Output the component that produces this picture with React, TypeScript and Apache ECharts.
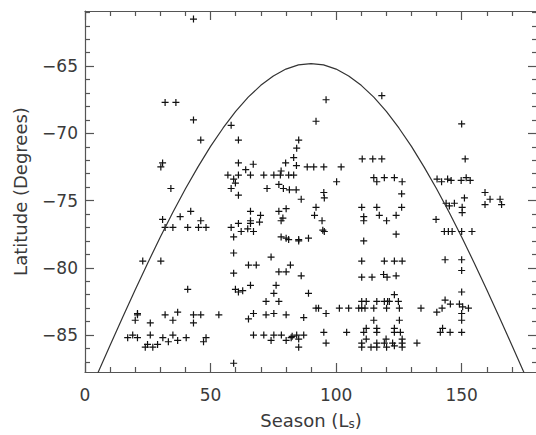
import React, { useEffect, useRef } from "react";
import * as echarts from "echarts";

// Observations: season (Ls, degrees) and latitude (degrees)
const lsValues = [
  43.2, 31.9, 36.2, 43.2, 46.1, 30.9, 30.2, 34.2,
  58.2, 61.1, 96.0, 92.0, 85.1, 84.3, 83.1, 79.9, 84.2, 88.5, 91.1, 95.1, 61.1, 67.0, 64.0, 78.1,
  56.9, 61.1, 65.9, 71.2, 75.2, 77.8, 81.1, 83.1, 59.2, 59.9, 58.2, 72.5, 77.2, 79.0, 81.4, 84.1,
  61.1, 86.1, 95.1, 95.3,
  65.9, 69.9, 61.1, 65.9, 65.9, 69.5, 58.2, 64.8, 62.2, 67.1, 59.2, 77.2, 80.1, 78.8, 78.1, 92.0,
  91.4, 94.4, 94.7, 95.3, 78.1, 80.1, 81.1, 85.1, 85.1, 89.0, 59.2, 74.1, 65.1, 68.2, 81.8, 77.2,
  80.1, 59.2, 86.1, 65.9, 59.9, 61.1, 62.8, 76.1, 75.2, 89.0, 72.1, 77.2, 92.0, 93.0, 96.0, 53.3,
  67.1, 65.1, 72.1, 75.2, 80.1, 87.1, 95.1, 96.0, 67.1, 71.2, 75.2, 78.2, 82.5, 84.3, 87.1, 74.1,
  80.1, 82.1, 85.1, 85.1, 59.2,
  30.9, 37.9, 42.1, 46.1, 31.9, 35.0, 40.9, 45.2, 48.2, 23.0, 30.2, 40.9, 20.9, 20.9, 20.0, 31.9,
  35.0, 36.9, 43.2, 46.1, 43.2, 26.0, 17.0, 19.0, 20.9, 26.0, 31.0, 33.2, 35.0, 36.9, 40.3, 47.2,
  48.2, 24.0, 24.9, 27.0, 28.9,
  118.2, 110.4, 114.6, 118.2, 102.0, 100.2, 115.0, 116.2, 119.2, 123.2, 126.3, 140.2, 142.0,
  150.0, 151.4, 144.4, 145.8, 149.8, 151.8, 153.4,
  159.3, 161.3, 165.3, 159.3, 165.9, 151.1, 150.2, 150.2, 143.8, 145.1, 147.1, 143.1, 144.7, 146.2,
  150.0, 154.1, 143.4, 150.0, 150.0, 150.0, 143.4, 145.5, 142.2, 149.1, 150.4, 152.7, 150.0, 150.0,
  142.4, 141.5, 145.4, 150.0,
  126.1, 110.2, 116.2, 126.1, 117.2, 111.0, 111.0, 120.1, 123.9, 139.8, 123.9, 111.0, 110.2, 119.2,
  123.2, 126.3, 110.2, 114.3, 118.9, 120.3, 123.9, 123.2, 110.2, 112.0, 116.2, 119.2, 120.5, 121.2,
  124.8, 101.3, 105.0, 109.0, 110.2, 111.5, 115.0, 120.1, 125.2, 133.8, 140.1, 115.0, 125.2, 104.2,
  111.0, 112.0, 116.2, 116.2, 123.2, 123.2, 125.6, 112.0, 119.9, 126.3, 132.2, 110.2, 110.2, 113.9,
  116.2, 116.2, 119.2, 120.1, 122.5, 123.2, 126.3, 126.3,
];

const latValues = [
  -61.5, -67.7, -67.7, -69.0, -70.5, -72.2, -72.5, -74.1,
  -69.4, -70.5, -67.5, -69.1, -70.5, -71.1, -71.8, -72.2, -72.4, -72.5, -72.5, -72.5, -72.2, -72.3, -72.7, -72.8,
  -73.1, -73.1, -73.1, -73.1, -73.1, -73.1, -73.1, -73.1, -73.4, -73.7, -74.1, -74.1, -73.8, -74.1, -74.2, -74.2,
  -74.6, -74.9, -74.4, -74.8,
  -75.8, -76.1, -76.7, -76.5, -76.7, -76.6, -77.0, -77.1, -77.3, -77.3, -77.7, -75.8, -75.6, -76.3, -76.5, -75.5,
  -76.1, -76.5, -77.2, -77.3, -77.7, -77.8, -77.9, -77.9, -78.0, -77.8, -78.9, -79.2, -79.8, -79.8, -79.8, -80.3,
  -80.3, -80.4, -80.6, -81.3, -81.6, -81.8, -81.7, -81.3, -81.9, -81.9, -82.5, -82.5, -83.0, -83.0, -83.4, -83.5,
  -83.4, -83.8, -83.5, -83.4, -83.5, -83.7, -84.8, -85.6, -85.0, -85.0, -85.0, -85.0, -85.1, -85.0, -85.0, -85.4,
  -85.4, -85.2, -85.3, -85.9, -87.1,
  -76.4, -76.2, -75.8, -76.5, -77.0, -77.0, -77.0, -77.0, -77.0, -79.5, -79.5, -81.6, -83.4, -83.5, -83.9, -83.5,
  -83.9, -83.3, -83.5, -83.5, -84.1, -84.1, -85.2, -85.0, -85.2, -85.0, -85.2, -85.5, -85.0, -85.4, -85.2, -85.5,
  -85.2, -85.9, -85.7, -85.9, -85.7,
  -67.2, -71.9, -71.9, -71.9, -72.5, -73.6, -73.3, -73.6, -73.3, -73.3, -73.6, -73.4, -73.6,
  -69.3, -71.9, -73.4, -73.5, -73.5, -73.3, -73.5,
  -74.4, -74.9, -74.9, -75.3, -75.3, -74.8, -75.5, -75.9, -75.2, -75.4, -75.2, -77.3, -77.3, -77.3,
  -77.3, -77.3, -79.4, -79.4, -80.2, -81.8, -82.4, -82.7, -83.0, -82.7, -82.9, -83.0, -83.4, -83.9,
  -84.5, -84.8, -84.8, -84.8,
  -74.5, -75.5, -75.5, -75.5, -76.1, -76.2, -76.5, -76.5, -76.1, -76.4, -77.5, -78.0, -79.5, -79.5,
  -79.5, -79.5, -80.7, -80.7, -80.5, -80.7, -80.6, -82.0, -82.5, -82.5, -82.5, -82.5, -82.5, -82.5,
  -82.5, -83.0, -83.0, -83.0, -83.0, -83.0, -83.0, -83.0, -83.0, -83.0, -83.3, -83.9, -83.9, -84.8,
  -84.8, -84.5, -84.5, -84.8, -84.5, -84.8, -84.8, -85.3, -85.3, -85.3, -85.6, -85.6, -85.9, -85.9,
  -85.6, -85.9, -85.6, -85.9, -85.6, -85.8, -85.6, -85.9,
];

// Boundary curve (season, latitude)
const curveLs = [
  0, 5, 10, 15, 20, 25, 30, 35, 40, 45, 50, 55, 60, 65, 70, 75, 80, 85, 90,
  95, 100, 105, 110, 115, 120, 125, 130, 135, 140, 145, 150, 155, 160, 165, 170, 175, 180,
];
const curveLat = [
  -90.0, -87.87, -85.76, -83.68, -81.63, -79.64, -77.71, -75.87, -74.12, -72.49, -70.97, -69.6,
  -68.37, -67.31, -66.43, -65.73, -65.22, -64.91, -64.81, -64.91, -65.22, -65.73, -66.43, -67.31,
  -68.37, -69.6, -70.97, -72.49, -74.12, -75.87, -77.71, -79.64, -81.63, -83.68, -85.76, -87.87, -90.0,
];

const xMajorTicks = [0, 50, 100, 150];
const xMinorTicks = [10, 20, 30, 40, 60, 70, 80, 90, 110, 120, 130, 140, 160, 170];
const yMajorTicks = [-85, -80, -75, -70, -65];
const yMinorTicks = [-87, -86, -84, -83, -82, -81, -79, -78, -77, -76, -74, -73, -72, -71, -69, -68, -67, -66, -64, -63, -62, -61];

const X_MIN = 0;
const X_MAX = 180;
const Y_MIN = -87.75;
const Y_MAX = -60.9;

const FONT = "DejaVu Sans";
const AXIS_COLOR = "#555";
const TEXT_COLOR = "#3a3a3a";

const minusFmt = (v: number) => String(v).replace("-", "\u2212");

function xAxisDef(position: "top" | "bottom", major: boolean, withLabels: boolean, name?: string) {
  const vals = major ? xMajorTicks : xMinorTicks;
  return {
    type: "value",
    position,
    min: X_MIN,
    max: X_MAX,
    splitLine: { show: false },
    axisLine: { show: major, onZero: false, lineStyle: { color: AXIS_COLOR, width: 1.2 } },
    axisTick: { show: true, inside: true, length: major ? 9 : 5, customValues: vals, lineStyle: { color: AXIS_COLOR, width: 1.2 } },
    axisLabel: withLabels
      ? { show: true, customValues: xMajorTicks, margin: 14, fontSize: 17, fontFamily: FONT, color: TEXT_COLOR, formatter: minusFmt }
      : { show: false },
    ...(name
      ? {
          name,
          nameLocation: "middle",
          nameGap: 39,
          nameTextStyle: {
            fontSize: 18,
            fontFamily: FONT,
            color: TEXT_COLOR,
            rich: { sub: { fontSize: 12, fontFamily: FONT, color: TEXT_COLOR, padding: [7, 0, 0, 0] } },
          },
        }
      : {}),
  };
}

function yAxisDef(position: "left" | "right", major: boolean, withLabels: boolean, name?: string) {
  const vals = major ? yMajorTicks : yMinorTicks;
  return {
    type: "value",
    position,
    min: Y_MIN,
    max: Y_MAX,
    splitLine: { show: false },
    axisLine: { show: major, onZero: false, lineStyle: { color: AXIS_COLOR, width: 1.2 } },
    axisTick: { show: true, inside: true, length: major ? 9 : 5, customValues: vals, lineStyle: { color: AXIS_COLOR, width: 1.2 } },
    axisLabel: withLabels
      ? { show: true, customValues: yMajorTicks, margin: 7, fontSize: 17, fontFamily: FONT, color: TEXT_COLOR, formatter: minusFmt }
      : { show: false },
    ...(name
      ? {
          name,
          nameLocation: "middle",
          nameGap: 56,
          nameTextStyle: { fontSize: 18, fontFamily: FONT, color: TEXT_COLOR },
        }
      : {}),
  };
}

export default function App() {
  const ref = useRef<HTMLDivElement>(null);

  useEffect(() => {
    if (!ref.current) return;
    const chart = echarts.init(ref.current, undefined, { renderer: "svg" });
    const points = lsValues.map((x, i) => [x, latValues[i]]);
    const curve = curveLs.map((x, i) => [x, curveLat[i]]);
    chart.setOption({
      animation: false,
      backgroundColor: "#ffffff",
      grid: { left: 85, top: 11, width: 452, height: 366, containLabel: false },
      xAxis: [
        xAxisDef("bottom", true, true, "Season (L{sub|s})"),
        xAxisDef("bottom", false, false),
        xAxisDef("top", true, false),
        xAxisDef("top", false, false),
      ],
      yAxis: [
        yAxisDef("left", true, true, "Latitude (Degrees)"),
        yAxisDef("left", false, false),
        yAxisDef("right", true, false),
        yAxisDef("right", false, false),
      ],
      series: [
        {
          type: "line",
          name: "boundary",
          data: curve,
          xAxisIndex: 0,
          yAxisIndex: 0,
          showSymbol: false,
          symbol: "none",
          clip: true,
          lineStyle: { color: "#333", width: 1.2 },
          silent: true,
        },
        {
          type: "scatter",
          name: "observations",
          data: points,
          xAxisIndex: 0,
          yAxisIndex: 0,
          symbol: "path://M2.9,0H4.1V2.9H7V4.1H4.1V7H2.9V4.1H0V2.9H2.9Z",
          symbolSize: 7,
          itemStyle: { color: "#111", opacity: 1 },
          clip: true,
        },
      ],
    });
    return () => chart.dispose();
  }, []);

  return (
    <div
      ref={ref}
      style={{ position: "fixed", left: 0, top: 0, width: 540, height: 435, background: "#fff" }}
    />
  );
}
